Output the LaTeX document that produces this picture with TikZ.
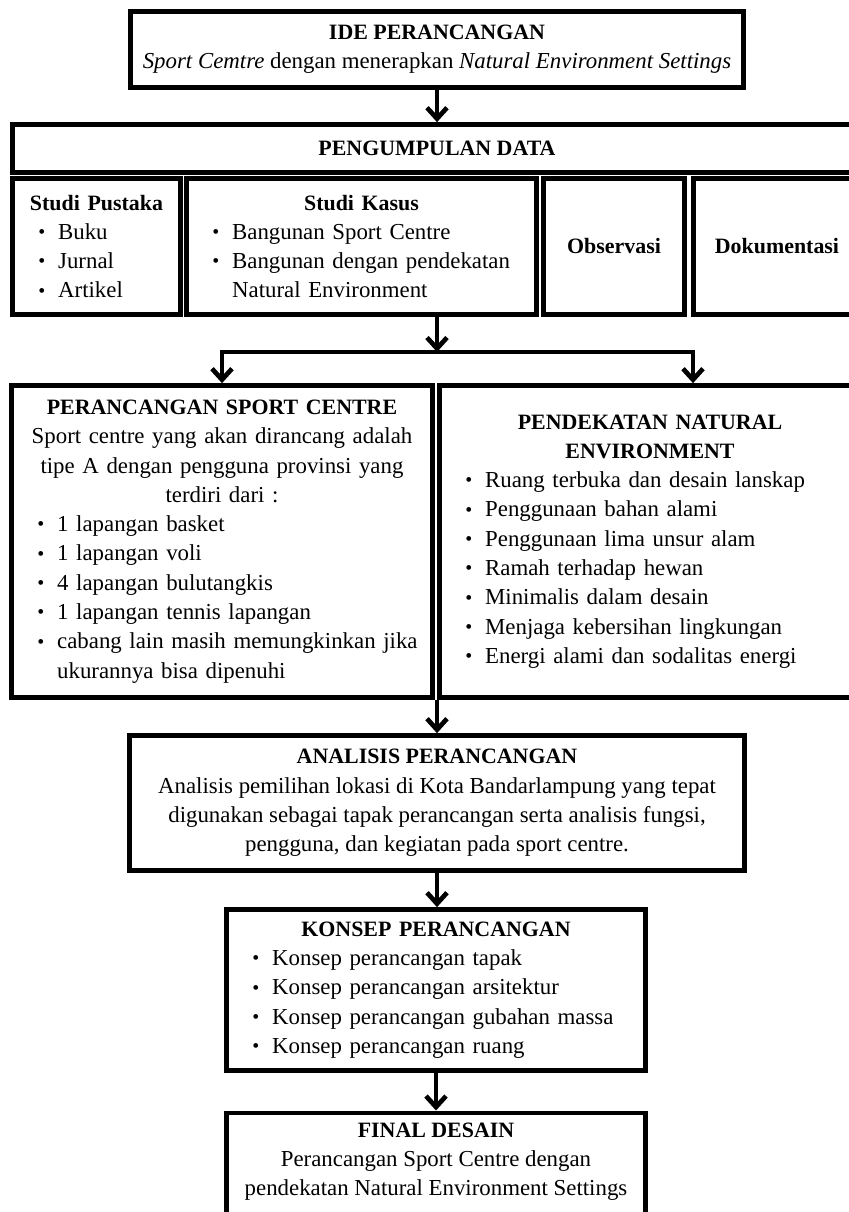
\documentclass[tikz,border=0pt]{standalone}
\usepackage{fontspec}
\setmainfont{Liberation Serif}
\usetikzlibrary{arrows.meta}

\newlength{\bkiri}\setlength{\bkiri}{0.48cm}
\newlength{\bjarak}\setlength{\bjarak}{0.59cm}
\newcommand{\judul}[1]{{\fontsize{18.7}{25}\selectfont\bfseries #1}}
\newcommand{\lanjut}{\hfil\break}
\newcommand{\butir}[1]{\par{\raggedright\parfillskip=0pt plus 1fil\hangindent=\dimexpr\bkiri+\bjarak\relax\hangafter=1\noindent\hspace*{\bkiri}\makebox[\bjarak][l]{\raisebox{0.6pt}{\fontsize{17}{17}\selectfont\textbullet}}#1\par}}

\begin{document}
\begin{tikzpicture}[x=0.03cm,y=-0.03cm]

\tikzset{kotak/.style = {shape=rectangle, draw, line width=4pt, inner xsep=0.3cm, inner ysep=0.15cm, align=center, font=\fontsize{19.5}{25}\selectfont}}
\tikzset{panah/.style = {-{Straight Barb[length=0.33cm,width=0.6cm]}, line width=4pt}}

\useasboundingbox (0,0) rectangle (849,1212);

%kotak
\node[kotak, minimum width=18.39cm, minimum height=2.28cm] (ide) at (437,49.5) {\judul{IDE PERANCANGAN}\\ \textit{Sport Cemtre} dengan menerapkan \textit{Natural Environment Settings}};
\node[kotak, minimum width=25.47cm, minimum height=1.44cm] (data) at (437,148.5) {\judul{PENGUMPULAN DATA}};
\node[kotak, text width=4.44cm, minimum height=4.08cm] (pustaka) at (96.5,246.5) {\judul{Studi Pustaka}\butir{Buku}\butir{Jurnal}\butir{Artikel}};
\node[kotak, text width=9.9cm, minimum height=4.08cm] (kasus) at (361.5,246.5) {\judul{Studi Kasus}\butir{Bangunan Sport Centre}\butir{Bangunan dengan pendekatan\lanjut Natural Environment}};
\node[kotak, minimum width=4.23cm, minimum height=4.08cm] (observasi) at (614,246.5) {\judul{Observasi}};
\node[kotak, minimum width=5.01cm, minimum height=4.08cm] (dokumentasi) at (777,246.5) {\judul{Dokumentasi}};
\node[kotak, text width=12.03cm, minimum height=9.36cm] (sport) at (222,541.5) {\judul{PERANCANGAN SPORT CENTRE}\par Sport centre yang akan dirancang adalah\par tipe A dengan pengguna provinsi yang\par terdiri dari :\butir{1 lapangan basket}\butir{1 lapangan voli}\butir{4 lapangan bulutangkis}\butir{1 lapangan tennis lapangan}\butir{cabang lain masih memungkinkan jika\lanjut ukurannya bisa dipenuhi}};
\node[kotak, text width=12.03cm, minimum height=9.36cm] (natural) at (650,541.5) {\judul{PENDEKATAN NATURAL}\par \judul{ENVIRONMENT}\butir{Ruang terbuka dan desain lanskap}\butir{Penggunaan bahan alami}\butir{Penggunaan lima unsur alam}\butir{Ramah terhadap hewan}\butir{Minimalis dalam desain}\butir{Menjaga kebersihan lingkungan}\butir{Energi alami dan sodalitas energi}};
\node[kotak, minimum width=18.45cm, minimum height=4.05cm] (analisis) at (437,803) {\judul{ANALISIS PERANCANGAN}\\ Analisis pemilihan lokasi di Kota Bandarlampung yang tepat\\ digunakan sebagai tapak perancangan serta analisis fungsi,\\ pengguna, dan kegiatan pada sport centre.};
\node[kotak, text width=11.97cm, minimum height=4.83cm] (konsep) at (436,990) {\judul{KONSEP PERANCANGAN}\butir{Konsep perancangan tapak}\butir{Konsep perancangan arsitektur}\butir{Konsep perancangan gubahan massa}\butir{Konsep perancangan ruang}};
\node[kotak, anchor=north, minimum width=12.57cm, inner ysep=0.29cm, text depth=2.5cm] (final) at (436,1110.5) {\judul{FINAL DESAIN}\\ Perancangan Sport Centre dengan\\ pendekatan Natural Environment Settings};

%panah
\coordinate (cabang) at (437,352);
\coordinate (belok) at (693,352);
\draw[panah] (ide) -- (data);
\draw[panah] (kasus.south -| data.south) -- (cabang);
\draw[panah] (cabang) -| (sport.north);
\draw[panah] (cabang) -- (belok) -- (belok |- natural.north);
\draw[panah] (analisis.north |- sport.south) -- (analisis);
\draw[panah] (analisis.south) -- (analisis.south |- konsep.north);
\draw[panah] (konsep) -- (final);

\end{tikzpicture}
\end{document}
